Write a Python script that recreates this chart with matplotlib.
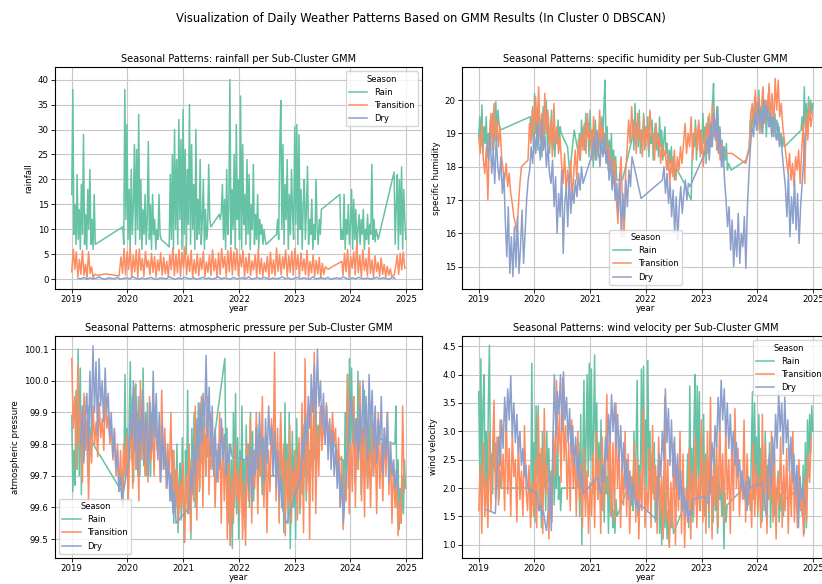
import pandas as pd
import matplotlib
matplotlib.use("Agg")
import matplotlib.pyplot as plt
import matplotlib.dates as mdates

# colours of the three seasons (Set2)
COLORS = {"Rain": "#66c2a5", "Transition": "#fc8d62", "Dry": "#8da0cb"}
SEASONS = ["Rain", "Transition", "Dry"]

# each series: list of (start date, step in days, values)
# ---------------- rainfall ----------------
rain_rainfall = [
    ("2019-01-01", 7, [17, 38, 9, 15, 7, 21, 8, 14, 6, 19, 9, 29, 7, 13, 6, 18, 10, 22, 7, 12, 6, 17, 7]),
    ("2019-12-01", 7, [10.5, 7, 38, 12, 31, 8, 18, 6, 22, 9, 15, 27, 7, 26, 10, 33, 8, 20, 6, 14,
                       9, 17, 7, 12, 27.6, 8, 15, 6, 17, 9, 12, 6, 10, 8, 17, 9, 8]),
    ("2020-10-01", 7, [6.5, 21, 8, 25, 6, 30, 10, 24, 7, 32, 12, 28, 6, 34, 9, 26, 5, 22, 11, 35,
                       7, 27, 10, 19, 6, 30, 8, 16, 9, 24, 7, 12, 20, 6, 14, 8, 10, 23, 12, 10.5]),
    ("2021-08-25", 7, [13, 12, 13.5, 19, 8, 16, 6, 22, 9, 14, 40, 7, 18, 10, 25, 6, 31, 12, 20, 8,
                       36.7, 6, 27, 11, 17, 7, 24, 9, 21, 6, 15, 10, 23, 7, 13, 8, 17, 6, 12, 9,
                       11, 7, 10, 8, 7]),
    ("2022-09-05", 7, [9, 12, 8, 26, 35.8, 10, 27, 7, 19, 12, 24, 6, 17, 9, 22, 13, 8, 30.5, 11, 31,
                       7, 29, 10, 18, 6, 15, 20, 8, 14, 22.6, 7, 12, 9, 16, 6, 11, 8, 20, 10, 7,
                       12, 9, 14]),
    ("2023-10-25", 7, [17, 8, 10, 8, 17, 6, 12, 9, 15, 7, 11, 18, 6, 16, 8, 14, 6, 10, 13, 7,
                       12, 9, 14, 6, 10, 8, 13, 7, 11, 9, 23, 8, 12, 7.5, 10, 9, 8, 9]),
    ("2024-10-15", 7, [21.5, 7, 15, 21, 6, 20, 9, 22.5, 6, 18, 12, 8]),
]
transition_rainfall = [
    ("2019-01-01", 10, [1.5, 6, 2, 5.5, 0.5, 4, 1, 5.8, 0.8, 3, 0.2, 5.5, 1.2, 2.5, 0.3, 1]),
    ("2019-06-25", 45, [0.8, 1.1, 0.9, 0.7]),
    ("2019-11-20", 10, [4.5, 1.2, 6.2, 0.8, 5.5, 2.0, 6.4, 0.5, 4.8, 1.5, 5.9, 0.3, 6.1, 1.8, 4.2, 0.6,
                        5.6, 2.4, 3.8, 0.9, 5.2, 1.4, 4.6, 0.4, 3.9, 1.7, 5.3, 0.8, 4.4, 1.1, 3.6, 0.5,
                        4.9, 1.9, 6.3, 0.7, 5.0,
                        1.3, 6.0, 0.6, 5.4, 2.2, 6.6, 0.9, 4.7, 1.6, 5.8, 0.4, 3.9, 1.2, 5.1, 0.7, 4.3,
                        2.0, 5.6, 0.5, 3.5, 1.4, 4.8, 0.8, 5.9, 1.7, 4.1, 0.3, 5.3, 1.0, 6.2, 2.3, 4.6,
                        0.6, 5.7, 1.5, 6.4, 0.9,
                        5.5, 1.8, 6.1, 0.7, 4.9, 2.5, 5.8, 0.4, 4.4, 1.3, 5.2, 0.8, 3.7, 1.9, 4.9, 0.5,
                        6.0, 1.1, 4.2, 0.6, 3.3, 1.5, 4.6, 0.3, 5.4, 1.2, 3.9, 0.7, 6.3, 1.6, 5.0, 0.9,
                        4.5, 2.1, 5.9, 0.6, 4.7,
                        1.4, 5.6, 0.8, 6.2, 2.0, 4.8, 0.5, 5.3, 1.7, 4.1, 0.9, 5.8, 0.4, 3.6, 1.3, 4.9,
                        0.6, 3.8, 1.1, 4.4, 0.3, 3.2, 1.0, 2.5]),
    ("2023-08-10", 30, [2.0, 2.6, 3.1, 3.6]),
    ("2023-11-15", 10, [0.8, 5.2, 1.5, 6.0, 0.4, 4.6, 2.2, 5.5, 0.9, 7.3, 1.3, 4.8, 0.5, 5.9, 1.8, 4.2,
                        0.7, 6.4, 1.2, 3.9, 0.3, 4.7, 1.6, 3.4, 0.6, 4.3, 1.0, 3.0, 0.4, 2.6, 0.8, 2.1]),
    ("2024-09-30", 8, [0.5, 0.7, 0.9]),
    ("2024-10-25", 10, [2.5, 4.8, 1.0, 5.2, 1.9, 5.5, 2.2]),
]
dry_rainfall = [
    ("2019-02-10", 20, [0.2, 0.1, 0.4, 0.0, 0.3, 0.1, 0.2, 0.5, 0.1, 0.0, 0.3, 0.2, 0.1, 0.4, 0.0, 0.2,
                        0.3, 0.1, 0.5, 0.2, 0.0, 0.3, 0.1, 0.2, 0.4, 0.1, 0.0, 0.3, 0.2, 0.1, 0.5, 0.2,
                        0.0, 0.3, 0.1, 0.4, 0.2, 0.1, 0.3, 0.0, 0.2, 0.4, 0.1, 0.3, 0.0, 0.2, 0.5, 0.1,
                        0.3, 0.2, 0.0, 0.4, 0.1, 0.2, 0.3, 0.1, 0.5, 0.0, 0.2, 0.3, 0.1, 0.4, 0.2, 0.0,
                        0.3, 0.1, 0.2, 0.5, 0.1, 0.3, 0.0, 0.2, 0.4, 0.1, 0.3, 0.2, 0.0, 0.5, 0.1, 0.2,
                        0.3, 0.1, 0.4, 0.0, 0.2, 0.3, 0.1, 0.5, 0.2, 0.0, 0.3, 0.1, 0.4, 0.2, 0.1, 0.3,
                        0.0, 0.2, 0.4, 0.1, 0.3, 0.2, 0.0, 0.4, 0.2]),
]

# ---------------- specific humidity ----------------
rain_humidity = [
    ("2019-01-01", 7, [18.9, 19.5, 18.6, 19.85, 18.4, 19.2, 18.7, 19.5, 18.3, 19.0, 18.6, 19.4, 18.9,
                       19.6, 18.5, 19.2, 19.95, 18.8, 19.7, 19.3, 19.1]),
    ("2019-12-05", 7, [19.5, 18.8, 19.7, 18.6, 20.2, 19.0, 19.6, 18.5, 19.9, 18.9, 19.4, 18.3, 19.8,
                       18.7, 19.3, 20.0, 18.6, 19.5, 18.4, 19.1, 19.7, 18.5, 19.2, 18.3, 19.0, 18.7,
                       19.4, 18.5, 19.2, 19.0]),
    ("2020-08-05", 15, [18.6, 17.8]),
    ("2020-09-18", 7, [19.1]),
    ("2020-10-15", 7, [18.4, 19.0, 18.2, 19.4, 18.7, 19.2, 18.5, 19.6, 18.9, 19.3, 18.3, 19.7, 18.6,
                       19.1, 18.0, 18.8, 19.4, 18.2, 19.0, 18.5, 19.3, 18.4, 19.5, 18.7, 19.8, 20.6,
                       18.6, 19.2, 17.9, 18.8, 18.2, 19.0, 17.7, 18.5, 17.9, 18.3, 17.6]),
    ("2021-08-01", 40, [17.6, 18.4]),
    ("2021-10-01", 7, [18.8, 19.4, 18.5, 19.9, 18.9, 19.3, 18.6, 19.7, 18.4, 19.1, 18.8, 19.6, 18.5,
                       19.2, 18.9, 19.5, 18.3, 19.0, 18.7, 19.4, 18.2, 18.9, 19.3, 18.5, 19.0, 18.3,
                       19.5, 18.6, 19.1, 18.2, 18.8, 19.2, 18.4, 18.7, 17.9, 18.5, 18.1, 18.6, 17.8,
                       18.3, 17.6, 18.0]),
    ("2022-09-10", 45, [17.5, 17.0]),
    ("2022-11-01", 7, [18.3, 19.0, 18.6, 19.4, 18.2, 18.9, 19.3, 18.5, 19.1, 18.4, 19.6, 18.7, 19.2,
                       18.1, 18.8, 19.5, 18.4, 19.0, 18.6, 19.9, 20.5, 18.9, 19.4, 18.5, 19.8, 18.7,
                       19.2, 18.3, 18.8, 18.0, 18.6, 18.2, 18.7, 17.9, 18.1]),
    ("2023-07-15", 97, [17.9, 18.2]),
    ("2023-11-10", 7, [18.6, 19.4, 19.0, 19.8, 19.2, 20.1, 19.5, 19.9, 19.1, 20.3, 19.4, 19.8, 19.0,
                       20.0, 19.3, 19.7, 18.9, 19.6, 20.2, 19.2, 19.8, 19.0, 19.5, 18.9, 19.6, 19.1,
                       19.4, 18.8, 19.2, 18.7, 19.0, 18.6, 18.9, 18.6]),
    ("2024-10-15", 7, [19.1, 19.5, 18.8, 20.4, 19.2, 19.9, 18.9, 20.1, 19.4, 20.0, 19.6, 19.9]),
]
transition_humidity = [
    ("2019-01-01", 10, [18.9, 18.4, 19.3, 18.2, 17.8, 18.6, 17.0, 18.9, 19.6, 18.5, 19.9, 18.8, 19.4,
                        18.6, 19.2, 18.3, 17.9]),
    ("2019-06-20", 10, [17.6, 18.1, 17.4, 17.8, 17.2, 16.9, 16.5, 16.3, 16.0, 16.8, 17.5, 18.0]),
    ("2019-11-20", 10, [18.2, 19.3, 18.7, 19.8, 18.9, 20.1, 19.2, 20.4, 18.8, 19.6, 18.5, 20.2, 19.0,
                        19.7, 18.6, 19.4, 18.3, 19.9, 18.7, 19.2, 18.4, 18.9,
                        18.1, 17.5, 18.4, 17.2, 17.9, 17.4, 18.2, 17.0, 17.8, 18.5, 17.6, 18.8, 18.2,
                        19.0, 18.5,
                        19.3, 18.4, 19.6, 18.8, 19.1, 18.2, 19.5, 18.6, 19.0, 18.3, 19.7, 18.7, 19.2,
                        18.4, 18.9, 18.1, 18.6, 17.9, 18.3,
                        17.5, 18.2, 17.0, 16.3, 17.6, 18.3, 16.9, 15.9, 17.8,
                        18.5, 19.4, 18.7, 19.8, 18.9, 19.3, 18.4, 19.6, 18.8, 19.1, 18.3, 19.5, 18.6,
                        19.2, 18.5, 19.7, 18.9, 19.0, 18.2, 19.3, 18.6, 18.9, 18.1, 18.7, 18.3, 18.5,
                        17.9, 18.4, 17.5, 18.2, 17.7, 18.5, 17.6, 18.3, 17.9, 18.6, 18.1,
                        18.7, 19.3, 18.4, 19.0, 18.6, 19.5, 18.2, 18.9, 19.2, 18.5, 19.4, 18.3, 19.1,
                        18.0, 18.8, 19.3, 18.4, 19.6, 18.7, 19.9, 18.9, 19.4, 18.5, 19.0, 18.2, 18.7,
                        18.4]),
    ("2023-07-20", 30, [18.4, 18.3, 18.2, 18.1]),
    ("2023-11-10", 10, [18.5, 19.6, 19.9, 19.2, 20.3, 19.5, 20.1, 19.0, 19.8, 20.4, 19.3, 20.0, 19.6,
                        20.5, 19.4, 20.2, 19.1, 20.65, 19.7, 20.6, 19.5, 19.9, 19.2, 18.8]),
    ("2024-07-11", 10, [18.2, 17.8, 18.4, 17.6, 18.1, 17.4, 18.3, 17.9, 18.5, 17.5]),
    ("2024-10-19", 10, [18.5, 19.3, 17.5, 19.6, 18.8, 19.9, 19.2, 19.6]),
]
dry_humidity = [
    ("2019-02-25", 10, [18.7, 18.2, 19.0, 17.8, 18.5, 17.5, 18.9, 18.0, 17.6, 18.3, 17.2, 17.8]),
    ("2019-06-24", 10, [16.4, 15.3, 16.8, 14.8, 15.9, 14.7, 16.2, 15.0, 16.5, 14.8, 15.6, 16.7, 15.1,
                        16.0, 17.0, 17.6]),
    ("2019-12-01", 10, [17.9, 18.6, 18.1, 19.0, 18.4, 19.3, 18.7, 18.2, 19.4, 18.5, 18.9, 18.0, 18.6,
                        17.8]),
    ("2020-04-19", 10, [17.5, 18.2, 16.8, 17.7, 16.0, 17.2, 16.5, 17.9, 15.4, 16.9, 17.4, 16.2, 17.8,
                        16.6, 17.3, 16.9, 17.6, 17.1, 17.8, 17.3, 18.0, 17.5]),
    ("2021-01-15", 10, [18.4, 18.9, 18.2, 19.1, 18.6, 18.0, 18.8, 18.3, 19.0, 18.1, 18.5, 17.6, 18.2,
                        17.3, 17.9, 17.0]),
    ("2021-06-24", 10, [17.5, 16.6, 17.8, 15.9, 17.2, 16.4, 17.6, 16.8, 17.9, 17.4, 18.3]),
    ("2021-12-01", 10, [17.05]),
    ("2022-04-20", 10, [17.6, 18.0, 17.2, 17.8, 16.9, 17.5, 16.5, 17.3, 16.0, 17.1, 15.8, 16.8, 17.4,
                        16.6, 17.2, 17.6, 17.0, 17.5, 17.4]),
    ("2023-02-01", 10, [18.5, 18.9, 18.2, 19.3, 18.6, 19.6, 18.8, 19.8, 18.4, 19.1, 18.0, 18.6, 17.6]),
    ("2023-06-11", 10, [17.0, 16.2, 16.8, 15.5, 16.4, 15.0, 16.1, 15.3, 16.6, 15.1, 16.0, 15.6, 16.5,
                        14.95, 16.8, 17.8]),
    ("2023-11-18", 10, [18.6, 19.2, 18.9, 19.6, 19.1, 19.9, 19.3, 19.7, 19.0, 20.0, 19.4, 19.8, 19.2,
                        19.6, 18.9, 19.5, 19.1, 18.8, 19.3, 18.6, 18.9, 18.3]),
    ("2024-07-04", 10, [17.4, 16.5, 17.8, 15.9, 17.1, 16.3, 17.6, 16.1, 17.2, 15.7, 16.8, 17.5, 18.2,
                        19.0]),
]

# ---------------- atmospheric pressure ----------------
rain_pressure = [
    ("2019-01-01", 7, [99.89, 99.65, 99.78, 99.67, 99.97, 99.72, 100.1, 99.7, 100.04, 99.64, 99.9,
                       99.75, 99.95, 99.8, 99.86, 99.7, 99.92, 99.78, 99.85, 99.82, 99.8]),
    ("2019-11-25", 7, [99.65, 99.6, 99.72, 100.02, 99.7, 99.85, 99.62, 99.9, 100.06, 99.75, 99.95,
                       99.68, 99.88, 99.99, 99.72, 99.83, 99.95, 99.7, 99.9, 99.78, 100.04, 99.73,
                       99.86, 99.7, 99.93, 99.76, 99.84, 99.7, 99.9, 99.8, 99.92, 99.85]),
    ("2020-10-10", 7, [99.7, 99.62, 99.78, 99.55, 99.72, 99.6, 99.8, 99.52, 99.68, 99.74, 99.56, 99.82,
                       99.6, 99.49, 99.78, 99.66, 99.97, 99.58, 99.75, 99.5, 99.85, 99.64, 99.9, 99.6,
                       99.8, 99.7, 99.93, 99.65, 99.86, 99.74, 99.9, 99.78, 99.83, 99.7, 99.88, 99.76,
                       99.8, 99.72]),
    ("2021-10-01", 7, [100.07, 99.7, 99.85, 99.55, 99.8, 99.48, 99.75, 99.47, 99.9, 99.6, 99.96, 99.58,
                       99.82, 99.5, 99.78, 99.65, 99.92, 99.6, 99.75, 99.53, 99.86, 99.68, 99.8, 99.6,
                       99.9, 99.7, 99.84, 99.62, 99.78, 99.72, 99.86, 99.66, 99.8, 99.7, 99.76, 99.64,
                       99.82, 99.72, 99.78, 99.7]),
    ("2022-09-25", 7, [99.7, 99.88, 99.6, 99.75, 99.52, 99.93, 99.65, 99.8, 99.55, 99.9, 99.47, 99.7,
                       99.84, 99.6, 99.78, 99.5, 99.88, 99.66, 99.8, 99.58, 99.74, 99.64, 99.86, 99.7,
                       99.82, 99.62, 99.9, 99.68, 99.78, 99.72, 99.85, 99.7, 99.8, 99.75, 99.9, 99.78,
                       99.86, 99.8, 99.9]),
    ("2023-11-01", 14, [99.75, 99.75]),
    ("2023-11-22", 7, [99.62, 99.9, 99.7, 100.02, 99.66, 100.07, 99.75, 100.04, 99.8, 99.95, 99.68,
                       99.88, 99.72, 100.03, 99.78, 99.9, 99.64, 99.85, 99.75, 99.97, 99.7, 99.84,
                       99.66, 99.92, 99.74, 99.86, 99.7, 99.8, 99.76, 99.9, 99.78, 99.82]),
    ("2024-10-20", 7, [99.8, 99.92, 99.6, 99.75, 99.53, 99.66, 99.55, 99.7, 99.58, 99.75, 99.66]),
]
transition_pressure = [
    ("2019-01-01", 10, [100.07, 99.85, 99.95, 99.72, 100.05, 99.8, 99.9, 99.68, 99.96, 99.78, 99.88,
                        99.62, 99.83, 99.74, 99.92, 99.8, 99.87, 99.76, 99.93, 99.82, 99.88, 99.78,
                        99.95, 99.85, 99.9, 99.8, 99.86, 99.75, 99.84, 99.7, 99.8, 99.65, 99.78, 99.62,
                        99.8, 99.7, 99.83,
                        99.62, 99.78, 99.85, 99.66, 99.98, 99.72, 99.9, 99.62, 100.0, 99.75, 99.93,
                        99.7, 99.88, 99.68, 99.95, 99.75, 99.86, 99.7, 99.92, 99.78, 99.84, 99.68,
                        99.97, 99.72, 99.85, 99.66, 99.8, 99.7, 99.9, 99.62, 99.78, 99.58, 99.72,
                        99.55, 99.68, 99.6, 99.74,
                        99.49, 99.7, 99.58, 99.8, 99.52, 99.75, 99.62, 99.92, 99.56, 99.85, 99.66,
                        99.95, 99.6, 99.88, 99.7, 99.95, 99.64, 99.9, 99.72, 99.82, 99.6, 99.78, 99.68,
                        99.9, 99.55, 99.85, 99.62, 99.8, 99.5, 99.75, 99.48, 99.7, 99.55, 99.8, 99.62,
                        99.72, 99.58,
                        99.75, 99.5, 99.68, 99.48, 99.8, 99.62, 99.88, 99.55, 99.78, 99.66, 99.9,
                        99.58, 99.84, 99.7, 99.95, 99.6, 99.82, 99.52, 99.78, 99.65, 99.88, 99.7,
                        100.09, 99.62, 99.85, 99.55, 99.9, 99.68, 99.8, 99.51, 99.75, 99.6, 99.86,
                        99.55, 99.72, 99.64, 99.78,
                        99.56, 99.82, 99.6, 99.93, 99.52, 100.07, 99.65, 99.88, 99.5, 99.95, 99.62,
                        100.09, 99.58, 99.85, 99.7, 99.92, 99.78, 99.88, 99.8, 99.93, 99.82, 99.87,
                        99.78, 99.9, 99.8, 99.85, 99.7, 99.82, 99.6, 99.76, 99.53, 99.7, 99.62, 100.02,
                        99.58, 99.8,
                        99.65, 99.95, 99.6, 99.88, 99.72, 100.0, 99.62, 99.85, 99.57, 99.92, 99.66,
                        99.78, 99.6, 99.88, 99.7, 99.82, 99.58, 99.9, 99.66, 99.8, 99.62, 99.85, 99.7,
                        99.9, 99.64, 99.8, 99.55, 99.75, 99.6, 99.72, 99.51, 99.62, 99.55, 99.92,
                        99.65]),
]
dry_pressure = [
    ("2019-03-01", 10, [99.8, 99.92, 99.74, 99.88, 99.96, 99.78, 100.03, 99.85, 100.11, 99.9, 100.06,
                        99.83, 100.07, 99.92, 100.0, 99.87, 100.04, 99.9, 99.96, 99.82, 99.9, 99.76,
                        99.85, 99.72, 99.78, 99.65, 99.7, 99.62]),
    ("2020-01-10", 10, [99.75, 99.9, 99.82, 100.0, 99.78, 99.95, 99.7, 99.88, 99.8, 99.97, 99.74, 99.9,
                        99.85, 99.7, 99.93, 99.78, 100.03, 99.82, 99.96, 99.75, 99.9, 99.68, 99.86,
                        99.72, 99.8, 99.66, 99.75, 99.62, 99.7, 99.58, 99.65, 99.55]),
    ("2021-02-10", 10, [99.6, 99.72, 99.65, 99.8, 99.7, 99.88, 99.75, 99.93, 99.8, 99.96, 99.85,
                        100.08, 99.82, 99.98, 99.76, 99.92, 99.7, 99.85, 99.68, 99.8, 99.72, 99.88,
                        99.75, 99.83, 99.7, 99.78, 99.74, 99.8, 99.76]),
    ("2022-02-15", 10, [99.75, 99.76, 99.65, 99.8, 99.62, 99.78, 99.7, 99.85, 99.72, 99.9, 99.76,
                        99.82, 99.68, 99.88, 99.74, 99.92, 99.8, 99.86, 99.7, 99.84, 99.66, 99.78,
                        99.62, 99.7, 99.6, 99.58, 99.56, 99.55]),
    ("2023-02-10", 10, [99.7, 99.82, 99.75, 99.88, 99.8, 99.95, 99.85, 100.02, 99.9, 100.05, 99.88,
                        100.1, 99.92, 100.0, 99.85, 99.96, 99.8, 99.92, 99.75, 99.88, 99.72, 99.84,
                        99.7, 99.8, 99.66, 99.75, 99.6, 99.7, 99.55]),
    ("2024-01-05", 10, [99.95, 99.9, 99.85, 99.8, 99.88, 99.75, 99.92, 99.8, 100.0, 99.82, 99.95,
                        99.75, 100.02, 99.85, 99.97, 99.78, 99.92, 99.74, 99.88, 99.8, 99.95, 99.7,
                        99.85, 99.76, 99.9, 99.68, 99.8, 99.7, 99.75, 99.66, 99.72, 99.65]),
]

# ---------------- wind velocity ----------------
rain_wind = [
    ("2019-01-01", 7, [3.7, 2.2, 4.28, 1.8, 3.5, 4.0, 2.0, 3.0, 1.9, 3.45, 4.52, 2.2, 2.6, 1.9, 3.1,
                       2.3, 2.8, 2.0, 2.5, 1.8, 2.3, 2.0]),
    ("2019-12-01", 7, [2.0, 1.5, 4.2, 1.9, 2.8, 1.4, 3.45, 2.2, 3.45, 1.8, 2.6, 1.3, 3.0, 2.0, 2.5,
                       1.6, 3.0, 2.1, 2.7, 1.5, 2.3, 1.9, 2.8, 1.7, 2.4, 2.0, 3.1, 1.8, 2.2, 1.6, 2.0]),
    ("2020-10-10", 7, [2.0, 2.8, 1.5, 3.3, 1.0, 2.6, 3.9, 1.8, 2.9, 4.0, 2.2, 4.2, 2.5, 4.1, 1.9, 3.0,
                       4.35, 2.3, 3.5, 1.8, 2.8, 2.1, 3.2, 1.6, 2.4, 1.4, 2.6, 1.9, 2.2, 1.2, 2.4, 1.5,
                       2.0, 1.3, 1.6, 1.2, 1.8, 1.5]),
    ("2021-10-01", 7, [2.2, 1.6, 3.0, 1.8, 2.7, 3.9, 1.5, 2.4, 1.9, 4.1, 2.2, 4.15, 1.7, 3.2, 2.0,
                       4.25, 2.3, 3.0, 1.6, 2.6, 1.9, 2.8, 1.4, 2.2, 1.8, 2.5, 1.2, 2.0, 1.0, 1.7,
                       2.3, 1.3, 1.9, 1.1, 1.6, 1.0, 1.8, 1.3, 1.5, 1.2]),
    ("2022-09-25", 7, [1.8, 2.6, 1.3, 3.8, 1.9, 2.7, 1.4, 3.2, 4.0, 1.7, 3.8, 2.2, 3.7, 1.6, 2.9, 2.0,
                       3.3, 1.5, 2.6, 1.8, 2.4, 1.3, 3.0, 1.9, 2.2, 1.4, 2.7, 1.6, 2.1, 1.2, 2.4, 1.8,
                       2.0, 1.5, 2.2, 0.93, 1.9, 1.4, 1.7]),
    ("2023-11-10", 7, [2.1, 1.6, 2.6, 3.7, 1.8, 3.5, 2.2, 2.9, 1.5, 3.3, 2.0, 2.7, 1.4, 2.5, 1.9, 3.0,
                       1.6, 2.4, 1.8, 2.8, 1.3, 2.2, 1.7, 2.5, 1.5, 2.0, 1.8, 2.3, 1.4, 1.9, 1.6, 2.1,
                       1.5, 1.8]),
    ("2024-10-15", 7, [2.0, 1.5, 2.4, 1.2, 2.8, 1.3, 3.2, 2.2, 3.3, 2.6, 3.45, 3.0]),
]
transition_wind = [
    ("2019-01-01", 10, [1.6, 2.4, 1.2, 2.8, 1.5, 2.2, 1.3, 3.0, 1.6, 2.5, 3.55, 1.8, 2.9, 1.7, 3.2,
                        2.0, 2.6, 1.6, 3.4, 1.9, 2.7, 1.5, 3.0, 2.2, 2.5, 1.4, 2.9, 1.8, 2.3, 1.5, 3.1,
                        2.0, 1.6, 2.4, 1.3, 2.1, 1.5,
                        2.5, 1.3, 3.3, 1.6, 2.7, 1.2, 3.4, 1.9, 2.4, 1.1, 2.2, 1.4, 3.0, 2.2, 3.9, 2.6,
                        3.3, 2.1, 3.95, 2.5, 3.1, 1.8, 2.8, 1.6, 3.2, 2.0, 2.6, 1.5, 3.0, 1.8, 2.4, 1.3,
                        2.7, 1.5, 2.3, 1.2, 2.1,
                        1.5, 2.6, 1.3, 3.0, 1.8, 2.5, 1.2, 2.9, 1.6, 2.3, 3.65, 1.9, 3.2, 1.5, 2.8, 1.4,
                        3.5, 2.0, 2.7, 1.3, 2.4, 1.7, 3.0, 1.5, 2.6, 1.2, 2.2, 1.8, 2.8, 1.4, 2.5, 1.1,
                        2.3, 1.6, 3.4, 1.3, 2.0,
                        1.6, 2.7, 1.3, 3.1, 1.8, 2.4, 1.2, 2.9, 1.5, 2.2, 1.1, 3.6, 1.4, 2.5, 0.95, 2.1,
                        1.3, 2.8, 1.0, 2.4, 1.6, 3.0, 1.2, 2.6, 0.95, 2.0, 1.4, 2.7, 1.1, 2.3, 1.5, 2.9,
                        1.3, 2.2, 1.6, 3.2, 1.4,
                        2.5, 1.2, 3.0, 1.6, 3.6, 1.1, 2.4, 1.7, 2.8, 1.3, 3.3, 1.9, 2.6, 1.4, 3.1, 1.8,
                        2.5, 1.2, 2.9, 1.6, 3.4, 2.0, 2.7, 1.5, 2.3, 1.8, 3.2, 1.4, 2.6, 1.7, 2.1, 1.3,
                        2.8, 1.5, 2.4, 1.6,
                        2.2, 1.3, 3.3, 1.6, 2.8, 1.2, 2.5, 1.8, 3.0, 1.4, 2.6, 1.1, 2.2, 1.7, 2.9, 1.3,
                        2.4, 1.6, 2.7, 1.2, 2.3, 1.5, 3.0, 1.4, 2.1, 1.3, 2.5, 1.6, 1.9, 1.15, 2.2, 1.4,
                        2.6, 2.1, 2.9]),
]
dry_wind = [
    ("2019-02-20", 59, [1.62, 1.55]),
    ("2019-05-01", 10, [2.3, 2.9, 2.4, 3.2, 2.7, 3.6, 3.0, 3.75, 3.2, 3.98, 2.9, 3.5, 2.8, 3.3, 2.6,
                        3.0, 2.4, 2.7, 2.2, 2.4, 2.0]),
    ("2020-01-20", 10, [1.9, 1.6, 1.7, 1.5, 1.6, 1.4, 1.25]),
    ("2020-04-01", 10, [1.6, 2.2, 1.25, 2.8, 4.0, 2.9, 3.7, 3.3, 4.0, 3.0, 4.05, 3.2, 3.6, 2.8, 3.4,
                        2.6, 3.1, 2.4, 2.9, 2.2, 2.6, 2.0, 2.3, 1.9]),
    ("2021-02-20", 10, [2.2, 2.0, 1.9, 2.4, 2.1, 2.9, 2.5, 3.3, 2.8, 3.65, 3.0, 3.5, 2.7, 3.3, 2.5,
                        3.1, 2.3, 2.8, 2.0, 2.5, 1.8, 2.3, 1.7, 2.1, 1.9, 1.65, 1.8, 1.6, 1.7]),
    ("2022-03-10", 10, [1.45, 2.0, 2.6, 2.2, 3.0, 2.5, 3.75, 2.8, 3.4, 2.4, 3.2, 2.2, 2.9, 2.0, 2.6,
                        1.8, 2.3, 1.6, 2.0, 1.5, 1.8, 1.4, 1.6, 1.5, 1.8]),
    ("2023-01-20", 10, [1.85, 1.8, 1.75, 1.7, 2.2, 2.8, 2.4, 3.1, 2.7, 3.6, 3.0, 3.9, 3.2, 3.75, 2.9,
                        3.5, 2.7, 3.3, 2.6, 3.0, 2.4, 2.8, 2.2, 2.5, 2.0, 2.3, 1.8, 2.1, 1.6, 2.2, 2.0]),
    ("2024-02-01", 10, [2.1, 1.9, 1.7, 1.5, 2.2, 2.6, 2.0, 2.9, 2.4, 3.3, 2.7, 3.7, 3.0, 3.5, 2.6,
                        3.6, 2.8, 3.2, 2.3, 2.9, 2.1, 2.6, 1.9, 2.4, 1.3, 2.2, 1.8, 2.0, 1.7]),
]

PANELS = [
    ("rainfall", [rain_rainfall, transition_rainfall, dry_rainfall], "upper right", (-1.94, 42.5)),
    ("specific humidity", [rain_humidity, transition_humidity, dry_humidity], "lower center",
     (14.33, 20.99)),
    ("atmospheric pressure", [rain_pressure, transition_pressure, dry_pressure], "lower left",
     (99.44, 100.141)),
    ("wind velocity", [rain_wind, transition_wind, dry_wind], "upper right", (0.765, 4.68)),
]


def expand(segments):
    xs, ys = [], []
    for start, step, vals in segments:
        xs.extend(pd.date_range(start, periods=len(vals), freq=f"{step}D"))
        ys.extend(vals)
    return xs, ys


plt.rcParams["font.family"] = "DejaVu Sans"
fig = plt.figure(figsize=(8.22, 5.84), dpi=100)
fig.suptitle("Visualization of Daily Weather Patterns Based on GMM Results (In Cluster 0 DBSCAN)",
             x=0.512, y=0.98, fontsize=8.3)

boxes = [[0.0669, 0.5051, 0.4465, 0.380], [0.5620, 0.5051, 0.4465, 0.380],
         [0.0669, 0.0445, 0.4465, 0.380], [0.5620, 0.0445, 0.4465, 0.380]]

for box, (name, series, loc, ylim) in zip(boxes, PANELS):
    ax = fig.add_axes(box)
    for season, segs in zip(SEASONS, series):
        x, y = expand(segs)
        ax.plot(x, y, color=COLORS[season], lw=1.1, label=season)
    ax.set_xlim(pd.Timestamp("2018-09-13"), pd.Timestamp("2025-04-16"))
    ax.set_ylim(*ylim)
    ax.xaxis.set_major_locator(mdates.YearLocator())
    ax.xaxis.set_major_formatter(mdates.DateFormatter("%Y"))
    ax.grid(True, color="#c8c8c8", lw=0.8)
    ax.tick_params(labelsize=6.2, length=3, width=0.6, pad=1.5)
    for s in ax.spines.values():
        s.set_linewidth(0.8)
    ax.set_title(f"Seasonal Patterns: {name} per Sub-Cluster GMM", fontsize=7.0, pad=4)
    ax.set_xlabel("year", fontsize=6.2, labelpad=0)
    ax.set_ylabel(name, fontsize=6.2, labelpad=3)
    ax.legend(title="Season", loc=loc, fontsize=6.0, title_fontsize=6.0, handlelength=2.2)

fig.savefig("out.png", dpi=100)
